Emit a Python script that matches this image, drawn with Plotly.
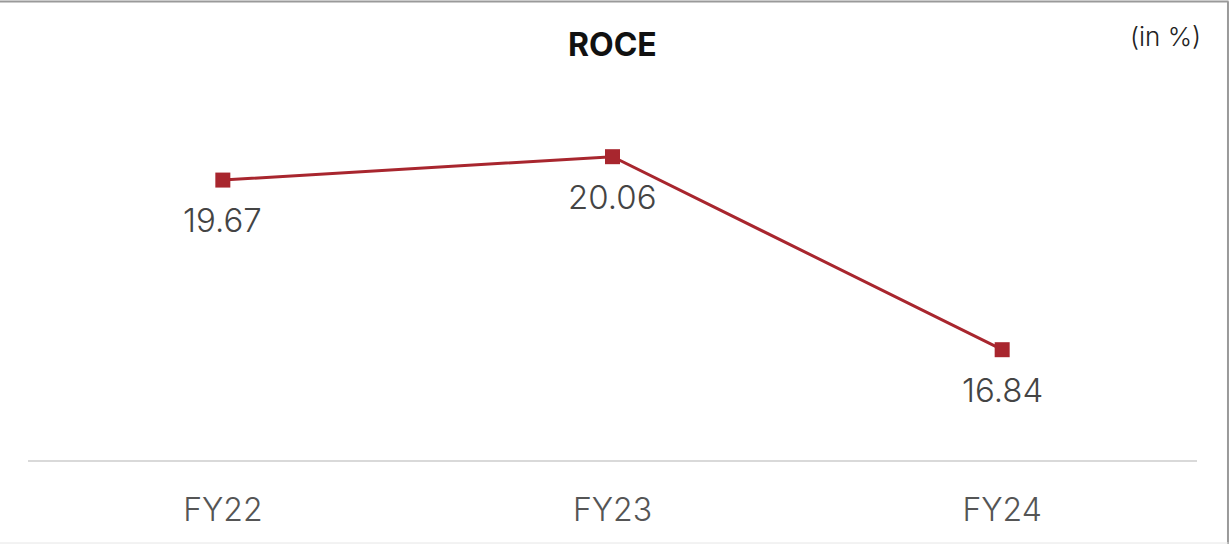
import plotly.graph_objects as go

# ROCE by fiscal year (in %)
years = ["FY22", "FY23", "FY24"]
roce = [19.67, 20.06, 16.84]

LINE_RED = "#A8262E"
FONT = "Inter"

fig = go.Figure()
fig.add_trace(go.Scatter(
    x=years, y=roce,
    mode="lines+markers",
    line=dict(color=LINE_RED, width=3),
    marker=dict(symbol="square", size=15, color=LINE_RED),
    hoverinfo="skip",
    showlegend=False,
))

# value labels under each point
for yr, v in zip(years, roce):
    fig.add_annotation(
        x=yr, y=v, text=f"{v:.2f}", showarrow=False,
        yshift=-40, font=dict(family=FONT, size=33, color="#444444", weight=300),
    )

# outer frame lines (top, right, bottom)
frame = dict(color="#9a9a9a", width=2)
fig.add_shape(type="line", xref="paper", yref="paper",
              x0=-0.03, x1=1.027, y0=1.146, y1=1.146, line=frame)
fig.add_shape(type="line", xref="paper", yref="paper",
              x0=1.0265, x1=1.0265, y0=-0.21, y1=1.146, line=frame)
fig.add_shape(type="line", xref="paper", yref="paper",
              x0=-0.03, x1=1.027, y0=-0.2075, y1=-0.2075,
              line=dict(color="#e6e6e6", width=1))

fig.add_annotation(
    xref="paper", yref="paper", x=0.5, y=1.0375, yanchor="middle",
    text="<b>ROCE</b>", showarrow=False,
    font=dict(family=FONT, size=32, color="#111111"),
)
fig.add_annotation(
    xref="paper", yref="paper", x=1.005, y=1.0575, xanchor="right", yanchor="middle",
    text="(in %)", showarrow=False,
    font=dict(family=FONT, size=26, color="#222222", weight=300),
)

fig.update_layout(
    width=1229, height=544,
    margin=dict(l=28, r=32, t=60, b=84),
    paper_bgcolor="white", plot_bgcolor="white",
    xaxis=dict(
        type="category", range=[-0.5, 2.5],
        showgrid=False, zeroline=False,
        showline=True, linecolor="#d9d9d9", linewidth=2,
        ticks="", ticklabelstandoff=21,
        tickfont=dict(family=FONT, size=32, color="#555555", weight=300),
    ),
    yaxis=dict(
        range=[15, 21.673], visible=False,
        showgrid=False, zeroline=False,
    ),
)

fig.write_html("out.html")
